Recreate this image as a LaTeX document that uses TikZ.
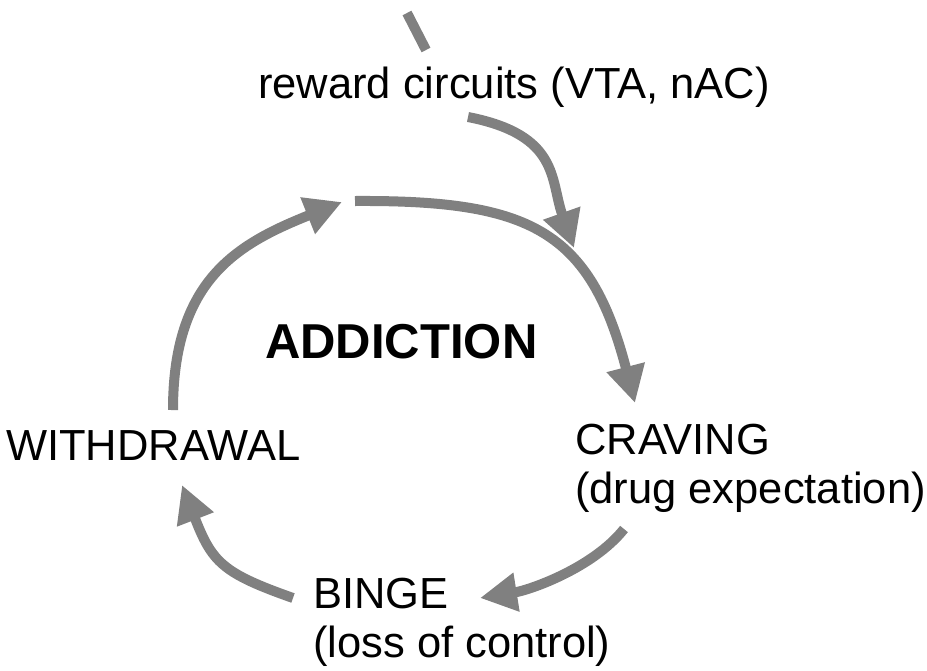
\documentclass[tikz,border=0pt]{standalone}
\usepackage{fontspec}
\setmainfont{Liberation Sans}
\usetikzlibrary{arrows.meta}
\definecolor{arrgray}{RGB}{128,128,128}
\tikzset{
  lbl/.style={inner sep=0pt, anchor=base west, align=left, font=\fontsize{43.5}{49}\selectfont},
  title/.style={inner sep=0pt, anchor=base west, font=\fontsize{49}{56}\selectfont\bfseries},
  arr/.style={draw=arrgray, line width=10pt, -{Triangle[length=37pt,width=37pt]}, fill=none},
  stub/.style={draw=arrgray, line width=10pt}
}
\begin{document}
\begin{tikzpicture}[x=1pt,y=-1pt]
\useasboundingbox (0,0) rectangle (927,670);
% texts (multi-line nodes are placed by the baseline of their last line)
\node[lbl] (reward) at (258,98) {reward circuits (VTA, nAC)};
\node[title] (addiction) at (265,358) {ADDICTION};
\node[lbl] (withdrawal) at (6,460) {WITHDRAWAL};
\node[lbl] (craving) at (575,503) {CRAVING\\(drug expectation)};
\node[lbl] (binge) at (313,657) {BINGE\\(loss of control)};
% connector end points
\coordinate (inA) at (407,13);
\coordinate (inB) at (426,50);
\coordinate (rwS) at (468,117);
\coordinate (rwT) at (574,248);
\coordinate (topS) at (355,201);
\coordinate (crT) at (635,403);
\coordinate (crS) at (624,529);
\coordinate (biT) at (480,598);
\coordinate (biS) at (293,598);
\coordinate (wdT) at (182,485);
\coordinate (wdS) at (173,410);
\coordinate (topT) at (342,202);
% connectors
\draw[stub] (inA) -- (inB);
\draw[arr] (rwS) .. controls (560,135) and (550,180) .. (rwT);
\draw[arr] (topS) .. controls (530,200) and (590,230) .. (crT);
\draw[arr] (crS) .. controls (593,568) and (530,590) .. (biT);
\draw[arr] (biS) .. controls (222,573) and (212,562) .. (wdT);
\draw[arr] (wdS) .. controls (173,280) and (237,244) .. (topT);
\end{tikzpicture}
\end{document}
